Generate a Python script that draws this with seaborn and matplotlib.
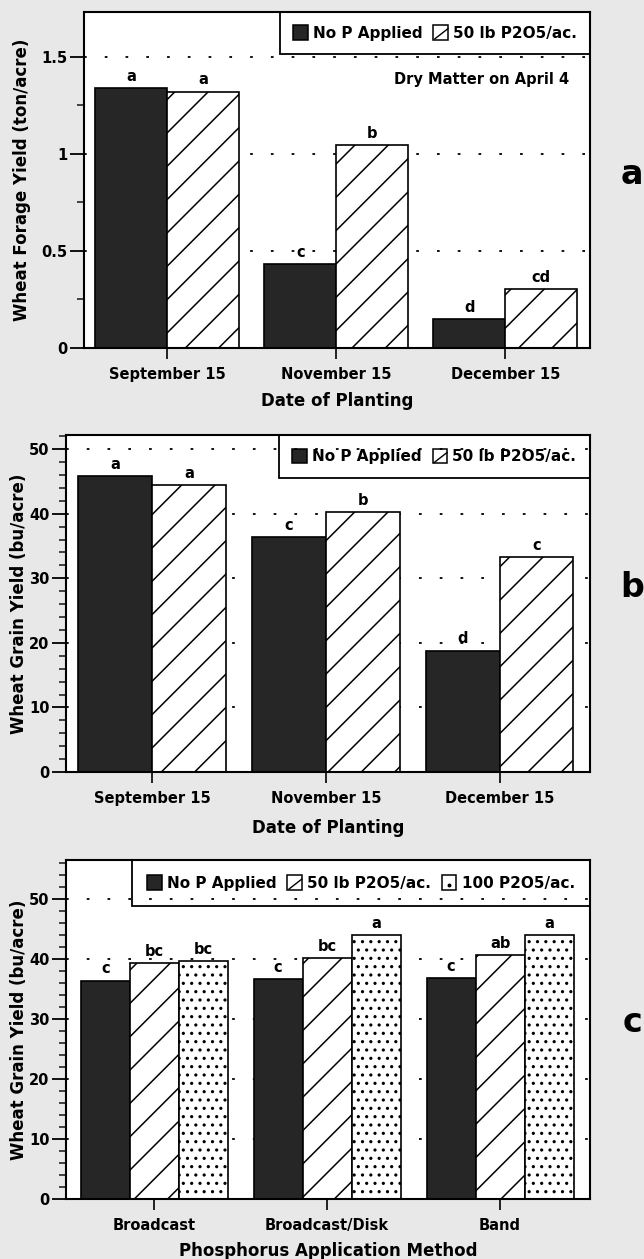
import numpy as np
import pandas as pd
import matplotlib
matplotlib.use("Agg")
import matplotlib.pyplot as plt
from matplotlib.patches import Patch, Rectangle
from matplotlib.lines import Line2D
from matplotlib.legend_handler import HandlerBase
from matplotlib.ticker import MultipleLocator, FuncFormatter
import seaborn as sns

# ---------------- data ----------------
dates = ["September 15", "November 15", "December 15"]
treat_ab = ["No P Applied", "50 lb P2O5/ac."]
forage_nop = [1.34, 0.43, 0.147]
forage_50 = [1.32, 1.045, 0.305]
forage_let_nop = ["a", "c", "d"]
forage_let_50 = ["a", "b", "cd"]

grain_nop = [45.9, 36.4, 18.8]
grain_50 = [44.5, 40.2, 33.3]
grain_let_nop = ["a", "c", "d"]
grain_let_50 = ["a", "b", "c"]

methods = ["Broadcast", "Broadcast/Disk", "Band"]
treat_c = ["No P Applied", "50 lb P2O5/ac.", "100 P2O5/ac."]
method_nop = [36.4, 36.6, 36.8]
method_50 = [39.3, 40.2, 40.7]
method_100 = [39.7, 44.0, 44.0]
method_let_nop = ["c", "c", "c"]
method_let_50 = ["bc", "bc", "ab"]
method_let_100 = ["bc", "a", "a"]

# ---------------- style ----------------
sns.set_theme(style="ticks")
plt.rcParams["font.family"] = ["DejaVu Sans"]
plt.rcParams["font.weight"] = "bold"
plt.rcParams["text.color"] = "black"
plt.rcParams["axes.labelcolor"] = "black"
plt.rcParams["hatch.linewidth"] = 1.1
plt.rcParams["hatch.color"] = "black"

BG = "#e8e8e8"
BLACK = "#262626"
fills = [BLACK, "white", "white"]
hatches = [None, "/", ".."]
marks = [None, "diag", "dot"]


class KeyHandler(HandlerBase):
    def __init__(self, kind):
        super().__init__()
        self.kind = kind

    def create_artists(self, legend, orig_handle, xdescent, ydescent, width, height,
                       fontsize, trans):
        x0, y0 = -xdescent, -ydescent
        side = min(width, height * 1.0)
        fc = BLACK if self.kind is None else "white"
        rect = Rectangle((x0, y0), side, side, facecolor=fc, edgecolor="black",
                         lw=1.1, transform=trans)
        arts = [rect]
        if self.kind == "diag":
            arts.append(Line2D([x0 + 0.1 * side, x0 + side], [y0 + 0.05 * side, y0 + 0.75 * side],
                               color="black", lw=1.0, transform=trans))
        elif self.kind == "dot":
            arts.append(Line2D([x0 + 0.5 * side], [y0 + 0.35 * side], marker="o", ms=1.8,
                               color="black", lw=0, transform=trans))
        return arts


fig = plt.figure(figsize=(6.44, 12.59), dpi=100, facecolor=BG)
H = 1259.0
W = 644.0


def make_ax(left, right, top, bottom):
    return fig.add_axes([left / W, 1 - bottom / H, (right - left) / W, (bottom - top) / H])


def draw_panel(ax, cats, treats, values, letters, ylim, xlim, major, minor, ylabel,
               xlabel, ylab_x, xlab_pad, panel_letter, letter_xy, fmt, bpad):
    rows = []
    for t, vals in zip(treats, values):
        for c, v in zip(cats, vals):
            rows.append({"cat": c, "trt": t, "val": v})
    df = pd.DataFrame(rows)
    sns.barplot(data=df, x="cat", y="val", hue="trt", order=cats, hue_order=treats,
                palette=fills[:len(treats)], width=0.85, saturation=1,
                edgecolor="black", linewidth=1.2, legend=False, ax=ax, zorder=2)
    for i, cont in enumerate(ax.containers):
        for bar, lab in zip(cont, letters[i]):
            bar.set_facecolor(fills[i])
            bar.set_edgecolor("black")
            if hatches[i]:
                bar.set_hatch(hatches[i])
            ax.annotate(lab, (bar.get_x() + bar.get_width() / 2, bar.get_height()),
                        xytext=(0, 3), textcoords="offset points", ha="center",
                        va="bottom", fontsize=10.5, fontweight="bold")
    ax.set_ylim(*ylim)
    ax.set_xlim(*xlim)
    ax.yaxis.set_major_locator(MultipleLocator(major))
    ax.yaxis.set_minor_locator(MultipleLocator(minor))
    ax.yaxis.set_major_formatter(FuncFormatter(fmt))
    ax.set_axisbelow(True)
    ax.yaxis.grid(True, which="major", linestyle=(0, (1.5, 10)), color="black", lw=1.3)
    ax.xaxis.grid(False)
    for s in ax.spines.values():
        s.set_visible(True)
        s.set_linewidth(1.5)
        s.set_color("black")
    ax.tick_params(axis="y", which="major", direction="out", length=10, width=1.3,
                   labelsize=10.5, pad=2, colors="black")
    ax.tick_params(axis="y", which="minor", direction="out", length=5, width=1.2)
    ax.tick_params(axis="x", which="major", direction="out", length=8, width=1.2,
                   labelsize=10.5, pad=6, colors="black")
    for t in ax.get_xticklabels() + ax.get_yticklabels():
        t.set_fontweight("bold")
    ax.set_ylabel(ylabel, fontsize=12, fontweight="bold", color="black")
    ax.yaxis.set_label_coords(ylab_x, 0.5)
    ax.set_xlabel(xlabel, fontsize=12, fontweight="bold", labelpad=xlab_pad, color="black")
    handles = [Patch(facecolor=fills[i], edgecolor="black") for i in range(len(treats))]
    hmap = {h: KeyHandler(marks[i]) for i, h in enumerate(handles)}
    leg = ax.legend(handles, treats, loc="upper right", ncol=len(treats), frameon=True,
                    fancybox=False, borderaxespad=0, handlelength=1.1, handleheight=1.1,
                    handletextpad=0.2, columnspacing=0.7, borderpad=bpad,
                    handler_map=hmap, prop={"weight": "bold", "size": 11})
    leg.get_frame().set_edgecolor("black")
    leg.get_frame().set_linewidth(1.3)
    leg.get_frame().set_facecolor("white")
    leg.get_frame().set_alpha(1)
    leg.set_zorder(0.3)
    fig.text(letter_xy[0] / W, 1 - letter_xy[1] / H, panel_letter, fontsize=24,
             fontweight="bold", ha="center", va="center")
    return ax


fmt_a = lambda v, p: f"{v:g}"
fmt_int = lambda v, p: f"{v:.0f}"

ax_a = make_ax(84, 590, 12, 348)
draw_panel(ax_a, dates, treat_ab, [forage_nop, forage_50],
           [forage_let_nop, forage_let_50], (0, 1.73), (-0.49, 2.5), 0.5, 0.25,
           "Wheat Forage Yield (ton/acre)", "Date of Planting", -0.105, 7, "a",
           (632, 175), fmt_a, 0.85)
ax_a.text(0.958, 0.80, "Dry Matter on April 4", transform=ax_a.transAxes,
          ha="right", va="center", fontsize=10.5, fontweight="bold")

ax_b = make_ax(66, 590, 435, 772)
draw_panel(ax_b, dates, treat_ab, [grain_nop, grain_50],
           [grain_let_nop, grain_let_50], (0, 52.2), (-0.495, 2.52), 10, 2,
           "Wheat Grain Yield (bu/acre)", "Date of Planting", -0.0725, 9, "b",
           (632, 587), fmt_int, 0.9)

ax_c = make_ax(66, 590, 860, 1199)
draw_panel(ax_c, methods, treat_c, [method_nop, method_50, method_100],
           [method_let_nop, method_let_50, method_let_100], (0, 56.5), (-0.51, 2.52),
           10, 2, "Wheat Grain Yield (bu/acre)", "Phosphorus Application Method",
           -0.0725, 6, "c", (632, 1023), fmt_int, 1.0)

fig.savefig("out.png", dpi=100, facecolor=BG)
